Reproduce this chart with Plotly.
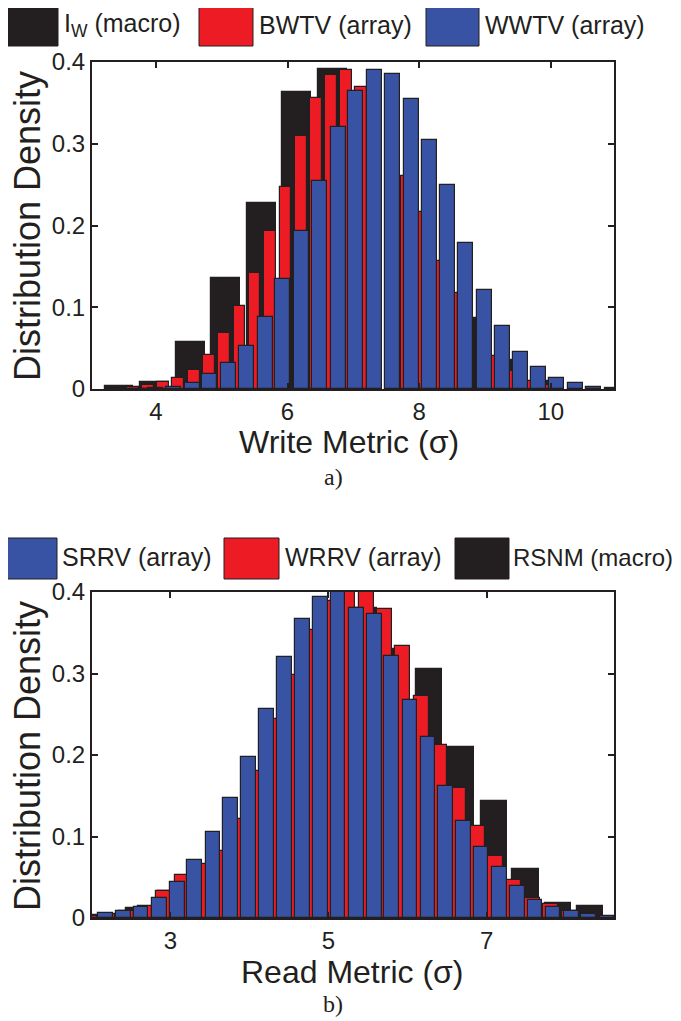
import plotly.graph_objects as go

W, H = 681, 1021

# ---------------- data ----------------
# Top panel: Write metric
iw_x = [3.44, 3.98, 4.52, 5.06, 5.60, 6.14, 6.68, 7.22, 7.76, 8.30, 8.84, 9.38, 9.92]
iw_y = [0.004, 0.009, 0.058, 0.136, 0.228, 0.363, 0.392, 0.33, 0.20, 0.14, 0.087, 0.035, 0.01]

bwtv_x = [3.65, 3.88, 4.11, 4.34, 4.58, 4.81, 5.04, 5.27, 5.50, 5.73, 5.97, 6.20, 6.43, 6.66, 6.89,
          7.12, 7.35, 7.58, 7.81, 8.04, 8.27, 8.50, 8.73, 8.96, 9.19, 9.42, 9.65, 9.88, 10.11]
bwtv_y = [0.002, 0.005, 0.008, 0.0135, 0.023, 0.042, 0.069, 0.102, 0.142, 0.193, 0.247, 0.309, 0.356,
          0.384, 0.39, 0.37, 0.34, 0.30, 0.26, 0.216, 0.157, 0.117, 0.085, 0.06, 0.04, 0.022, 0.01,
          0.005, 0.003]

wwtv_x = [3.72, 3.99, 4.27, 4.55, 4.82, 5.10, 5.38, 5.66, 5.93, 6.21, 6.49, 6.77, 7.04, 7.32, 7.60,
          7.88, 8.15, 8.43, 8.71, 8.99, 9.26, 9.54, 9.82, 10.09, 10.37, 10.65, 10.93]
wwtv_y = [0.0005, 0.001, 0.003, 0.007, 0.018, 0.032, 0.053, 0.088, 0.134, 0.193, 0.254, 0.321, 0.364,
          0.39, 0.385, 0.355, 0.305, 0.249, 0.179, 0.121, 0.077, 0.045, 0.027, 0.013, 0.007, 0.003,
          0.001]

# Bottom panel: Read metric
srrv_x = [2.18, 2.41, 2.63, 2.86, 3.09, 3.31, 3.54, 3.76, 3.99, 4.22, 4.44, 4.67, 4.90, 5.12, 5.35,
          5.58, 5.80, 6.03, 6.26, 6.48, 6.71, 6.93, 7.16, 7.39, 7.61, 7.84, 8.07, 8.29, 8.52]
srrv_y = [0.0056, 0.0086, 0.0135, 0.025, 0.044, 0.071, 0.1055, 0.147, 0.1975, 0.257, 0.32, 0.367,
          0.394, 0.405, 0.38, 0.3725, 0.322, 0.267, 0.222, 0.1615, 0.119, 0.087, 0.0626, 0.0396,
          0.022, 0.0135, 0.008, 0.005, 0.003]

wrrv_x = [1.98, 2.21, 2.45, 2.68, 2.91, 3.15, 3.38, 3.61, 3.85, 4.08, 4.31, 4.55, 4.78, 5.01, 5.24,
          5.48, 5.71, 5.94, 6.18, 6.41, 6.64, 6.88, 7.11, 7.34, 7.58, 7.81, 8.04, 8.28]
wrrv_y = [0.003, 0.005, 0.008, 0.015, 0.033, 0.053, 0.066, 0.082, 0.1215, 0.18, 0.244, 0.2985, 0.353,
          0.389, 0.41, 0.405, 0.379, 0.334, 0.273, 0.2125, 0.1595, 0.1124, 0.0756, 0.047, 0.0245,
          0.0172, 0.008, 0.004]

rsnm_x = [2.19, 2.60, 3.01, 3.41, 3.82, 4.23, 4.64, 5.05, 5.45, 5.86, 6.27, 6.68, 7.09, 7.49, 7.90, 8.31]
rsnm_y = [0.004, 0.012, 0.033, 0.045, 0.075, 0.13, 0.22, 0.32, 0.38, 0.33, 0.305, 0.21, 0.143,
          0.06, 0.018, 0.015]

top_xticks = [4, 6, 8, 10]
bot_xticks = [3, 5, 7]
y_ticks = [0, 0.1, 0.2, 0.3, 0.4]
y_ticklabels = ["0", "0.1", "0.2", "0.3", "0.4"]

# ---------------- style ----------------
BLACK = "#231f20"
RED = "#ed1c24"
BLUE = "#3953a4"
EDGE = "#231f20"
FONT = "Liberation Sans Narrow, Liberation Sans, Arial, sans-serif"
SERIF = "Liberation Serif, Times New Roman, serif"

OFF = 8  # page body margin


def px(x):
    return (x - OFF) / W


def py(y):
    return 1 - (y - OFF) / H


fig = go.Figure()


def add_bars(x, y, w, color, xa, ya, name):
    fig.add_trace(go.Bar(
        x=x, y=y, width=w, name=name, xaxis=xa, yaxis=ya,
        marker=dict(color=color, line=dict(color=EDGE, width=1.2)),
        showlegend=False, hoverinfo="x+y",
    ))


# top: black first, then red, then blue on top
add_bars(iw_x, iw_y, 0.44, BLACK, "x", "y", "IW (macro)")
add_bars(bwtv_x, bwtv_y, 0.178, RED, "x", "y", "BWTV (array)")
add_bars(wwtv_x, wwtv_y, 0.228, BLUE, "x", "y", "WWTV (array)")
# bottom
add_bars(rsnm_x, rsnm_y, 0.332, BLACK, "x2", "y2", "RSNM (macro)")
add_bars(wrrv_x, wrrv_y, 0.186, RED, "x2", "y2", "WRRV (array)")
add_bars(srrv_x, srrv_y, 0.186, BLUE, "x2", "y2", "SRRV (array)")

L, R = 92, 614
top_t, top_b = 62, 389
bot_t, bot_b = 592, 918

axis_common = dict(
    showline=True, linecolor=BLACK, linewidth=2, mirror="allticks",
    ticks="inside", ticklen=6, tickwidth=1.5, tickcolor=BLACK,
    showgrid=False, zeroline=False, automargin=False,
    tickfont=dict(family=FONT, size=24, color=BLACK),
)

fig.update_layout(
    width=W, height=H,
    margin=dict(l=0, r=0, t=0, b=0, pad=0, autoexpand=False),
    paper_bgcolor="white", plot_bgcolor="white",
    barmode="overlay", bargap=0,
    xaxis=dict(domain=[px(L), px(R)], anchor="y", range=[3.03, 10.96],
               tickvals=top_xticks, ticktext=[str(t) for t in top_xticks], **axis_common),
    yaxis=dict(domain=[py(top_b), py(top_t)], anchor="x", range=[0, 0.4],
               tickvals=y_ticks, ticktext=y_ticklabels, **axis_common),
    xaxis2=dict(domain=[px(L), px(R)], anchor="y2", range=[2.01, 8.61],
                tickvals=bot_xticks, ticktext=[str(t) for t in bot_xticks], **axis_common),
    yaxis2=dict(domain=[py(bot_b), py(bot_t)], anchor="x2", range=[0, 0.4],
                tickvals=y_ticks, ticktext=y_ticklabels, **axis_common),
)

annotations = []
shapes = []


def text(xp, yp, s, size, xanchor="left", family=FONT, angle=0):
    annotations.append(dict(
        x=px(xp), y=py(yp), xref="paper", yref="paper", text=s, showarrow=False,
        xanchor=xanchor, yanchor="middle", textangle=angle,
        font=dict(family=family, size=size, color=BLACK),
    ))


def swatch(x0, x1, y0, y1, color):
    shapes.append(dict(type="rect", xref="paper", yref="paper",
                       x0=px(x0), x1=px(x1), y0=py(y1), y1=py(y0),
                       fillcolor=color, line=dict(color=EDGE, width=1)))


# top legend
swatch(4, 58, 3, 46, BLACK)
text(62, 25, "I<sub>W</sub> (macro)", 25)
swatch(199, 253, 4, 46, RED)
text(257, 25, "BWTV (array)", 25)
swatch(426, 479, 4, 46, BLUE)
text(483, 25, "WWTV (array)", 25)

# bottom legend
swatch(4, 57, 538, 579, BLUE)
text(60, 557, "SRRV (array)", 25)
swatch(224, 279, 538, 579, RED)
text(283, 557, "WRRV (array)", 25)
swatch(455, 509, 538, 579, BLACK)
text(511, 557, "RSNM (macro)", 24)

# axis titles
text(27, 226, "Distribution Density", 36, xanchor="center", angle=-90)
text(27, 756, "Distribution Density", 36, xanchor="center", angle=-90)
text(349, 442, "Write Metric (σ)", 32, xanchor="center")
text(352, 972, "Read Metric (σ)", 32, xanchor="center")

# captions
text(333, 477, "a)", 24, xanchor="center", family=SERIF)
text(333, 1004, "b)", 24, xanchor="center", family=SERIF)

fig.update_layout(annotations=annotations, shapes=shapes)

fig.write_html("out.html")
